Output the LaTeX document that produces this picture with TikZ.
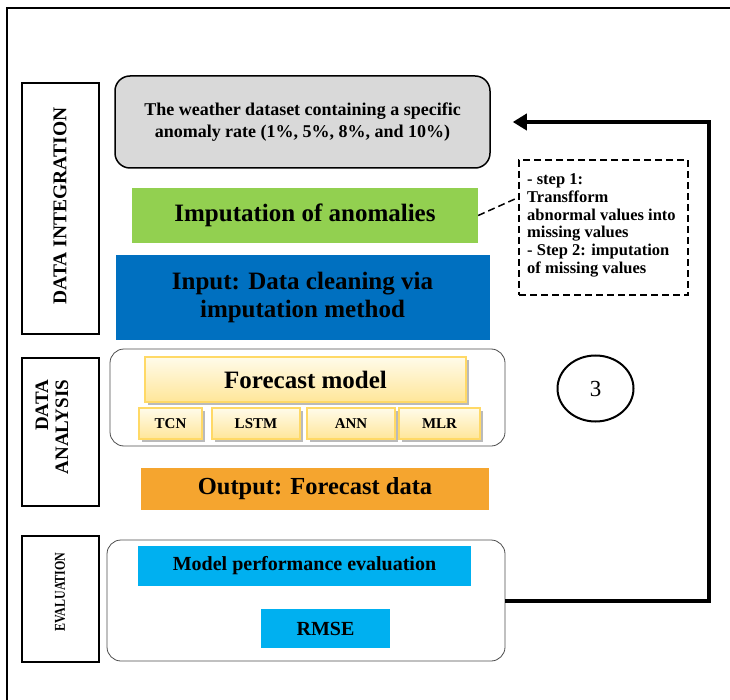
\documentclass[tikz,border=0pt]{standalone}
\usepackage{fontspec}
\setmainfont{Liberation Serif}
\usetikzlibrary{arrows.meta,shapes.geometric,shadows}
\definecolor{graybox}{HTML}{D9D9D9}
\definecolor{greenbox}{HTML}{92D050}
\definecolor{bluebox}{HTML}{0070C0}
\definecolor{orangebox}{HTML}{F5A52F}
\definecolor{cyanbox}{HTML}{00B0F0}
\definecolor{ylwborder}{HTML}{FFD966}
\definecolor{ylwtop}{HTML}{FFFBEA}
\definecolor{ylwbot}{HTML}{FFE699}
\tikzset{
  sidebox/.style={draw, line width=1.2pt, inner sep=0pt, font=\bfseries},
  flat/.style={inner sep=0pt, font=\bfseries, align=center},
  container/.style={draw=black!70, line width=0.8pt, rounded corners=14pt, inner sep=0pt},
  ylw/.style={draw=ylwborder, line width=2pt, top color=ylwtop, bottom color=ylwbot,
    inner sep=0pt, font=\bfseries,
    drop shadow={shadow xshift=3pt, shadow yshift=-3pt, fill=black!45, opacity=0.6}},
}
\begin{document}
\begin{tikzpicture}[x=1pt,y=-1pt]
\useasboundingbox (0,0) rectangle (730,700);
% outer frame (clipped at right and bottom)
\draw[line width=1.2pt] (7,700) -- (7,8) -- (730,8);

% side labels
\node[sidebox, minimum width=77pt, minimum height=251pt] (di) at (60.5,208.5) {};
\node[rotate=90, font=\bfseries\fontsize{19.5}{21}\selectfont] at (60,206) {DATA INTEGRATION};
\node[sidebox, minimum width=77pt, minimum height=148pt] (da) at (60.5,432) {};
\node[rotate=90, align=right, font=\bfseries\fontsize{19}{20}\selectfont] at (52,427) {DATA\\ANALYSIS};
\node[sidebox, minimum width=77pt, minimum height=126pt] (ev) at (60.5,599) {};
\node[rotate=90, font=\bfseries\fontsize{15}{16}\selectfont] at (60,592) {\scalebox{0.8}[1]{EVALUATION}};

% data integration
\node[draw, line width=1.5pt, rounded corners=15pt, fill=graybox, minimum width=375pt,
  minimum height=92pt, inner sep=0pt, align=center, font=\bfseries\fontsize{18}{22}\selectfont]
  (gray) at (302.5,122) {The weather dataset containing a specific\\anomaly rate (1\%, 5\%, 8\%, and 10\%)};
\node[flat, fill=greenbox, minimum width=346pt, minimum height=55pt, font=\bfseries\fontsize{25}{28}\selectfont]
  (green) at (305,215.5) {Imputation of anomalies};
\node[flat, fill=bluebox, minimum width=374pt, minimum height=84pt, font=\bfseries\fontsize{25}{28}\selectfont]
  (blue) at (302.5,297.5) {Input: Data cleaning via\\imputation method};
\node[draw, line width=1.5pt, dash pattern=on 7pt off 4pt, minimum width=169pt, minimum height=135pt,
  inner sep=0pt] (dash) at (603.5,227.5) {};
\node[anchor=north west, align=left, inner sep=0pt, font=\bfseries\fontsize{16.5}{17.8}\selectfont]
  (dashtxt) at (527,173.5) {- step 1:\\Transfform\\abnormal values into\\missing values\\- Step 2: imputation\\of missing values};
\draw[line width=1.5pt, dash pattern=on 7pt off 4pt] (green.east) -- ([yshift=30pt]dash.west);

% data analysis
\node[container, minimum width=395pt, minimum height=97pt] (anal) at (307.5,397.5) {};
\node[ylw, minimum width=321pt, minimum height=45pt, font=\bfseries\fontsize{25}{27}\selectfont]
  (fm) at (305.5,379.5) {Forecast model};
\node[ylw, minimum width=63pt, minimum height=31pt, font=\bfseries\fontsize{15}{17}\selectfont] (tcn) at (170.5,423.5) {TCN};
\node[ylw, minimum width=88pt, minimum height=31pt, font=\bfseries\fontsize{15}{17}\selectfont] (lstm) at (256,423.5) {LSTM};
\node[ylw, minimum width=88pt, minimum height=31pt, font=\bfseries\fontsize{15}{17}\selectfont] (ann) at (351,423.5) {ANN};
\node[ylw, minimum width=81pt, minimum height=31pt, font=\bfseries\fontsize{15}{17}\selectfont] (mlr) at (439.5,423.5) {MLR};

\node[flat, fill=orangebox, minimum width=348pt, minimum height=42pt, font=\bfseries\fontsize{24.5}{26}\selectfont]
  (out) at (315,489) {Output: Forecast data};

% evaluation
\node[container, minimum width=398pt, minimum height=121pt] (evc) at (306,600.5) {};
\node[flat, fill=cyanbox, minimum width=333pt, minimum height=40pt, font=\bfseries\fontsize{20}{22}\selectfont]
  (mpe) at (304.5,566) {Model performance evaluation};
\node[flat, fill=cyanbox, minimum width=129pt, minimum height=39pt, font=\bfseries\fontsize{20}{22}\selectfont]
  (rmse) at (325.5,628.5) {RMSE};

% circle 3
\node[draw, ellipse, line width=2pt, minimum width=76pt, minimum height=66pt, inner sep=0pt,
  font=\fontsize{23}{25}\selectfont] (three) at (595.5,388.5) {3};

% feedback arrow
\coordinate (corner1) at (709,600.5);
\draw[line width=4pt, -{Triangle[length=14pt,width=16pt]}, shorten >=22pt]
  (evc.east) -- (corner1) |- (gray.east);
\end{tikzpicture}
\end{document}
